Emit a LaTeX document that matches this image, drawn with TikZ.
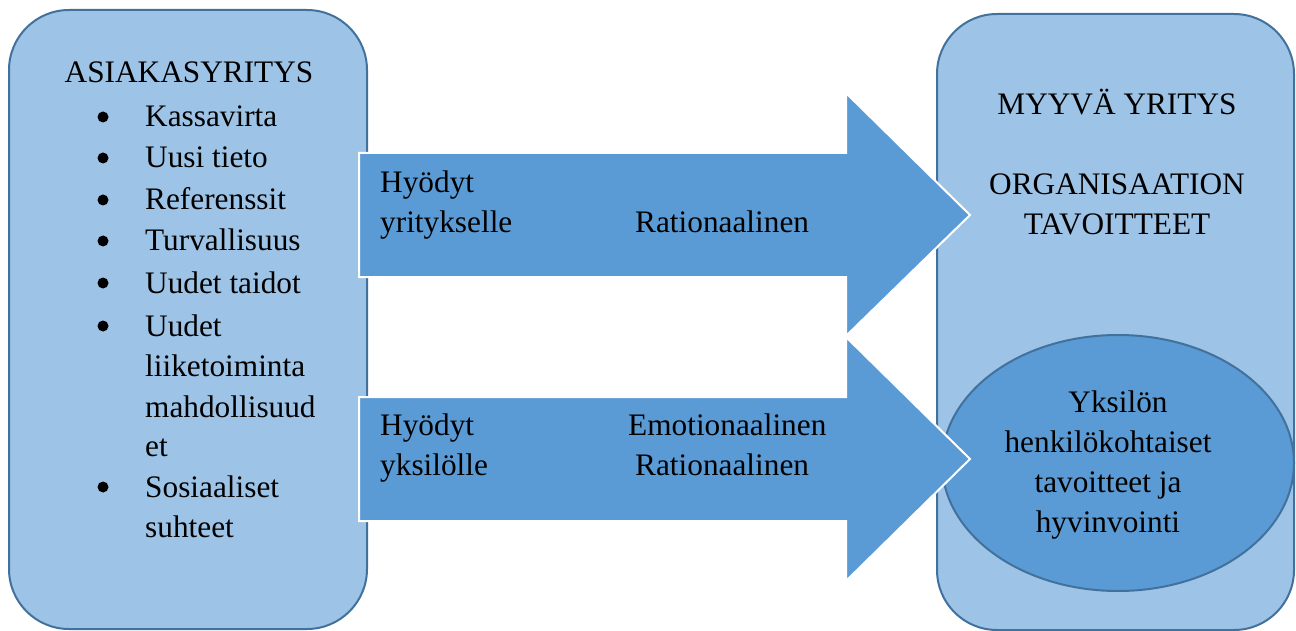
\documentclass[tikz,border=0pt]{standalone}
\usepackage{fontspec}
\setmainfont{Liberation Serif}
\definecolor{boxfill}{HTML}{9DC3E6}
\definecolor{edge}{HTML}{41719C}
\definecolor{arrowfill}{HTML}{5B9BD5}
\begin{document}
\begin{tikzpicture}[x=1pt,y=-1pt,
  box/.style={fill=boxfill, draw=edge, line width=2pt, rounded corners=60pt},
  blockarrow/.style={fill=arrowfill, draw=white, line width=2pt, line join=miter},
  goal/.style={fill=arrowfill, draw=edge, line width=2pt},
  txt/.style={inner sep=0pt, anchor=base west, font=\fontsize{31.3}{38}\selectfont},
  ctxt/.style={txt, anchor=base},
  dot/.style={circle, fill=black, inner sep=0pt, minimum size=11pt},
]
\useasboundingbox (0,0) rectangle (1296,631);

% the two organisations
\path[box] (9,10) rectangle (367,629);
\path[box] (937,14) rectangle (1294,630);

% personal goals inside the selling company
\path[goal] (1118,463) ellipse [x radius=176pt, y radius=128pt];

% benefit arrows
\path[blockarrow] (359,153) -- (846,153) -- (846,93) -- (970,215)
  -- (846,336) -- (846,277) -- (359,277) -- cycle;
\path[blockarrow] (359,397) -- (846,397) -- (846,337) -- (970,459)
  -- (846,581) -- (846,521) -- (359,521) -- cycle;

% customer company
\node[ctxt] (cTitle) at (189,83) {ASIAKASYRITYS};
\foreach \y/\t [count=\i] in {127/Kassavirta, 168/Uusi tieto, 210/Referenssit,
    251/Turvallisuus, 293/Uudet taidot, 336/Uudet, 497/Sosiaaliset}{
  \node[dot] (bul\i) at (103,{\y-10}) {};
  \node[txt] (item\i) at (145,\y) {\t};
}
\node[txt] (cont1) at (145,376) {liiketoiminta};
\node[txt] (cont2) at (145,417) {mahdollisuud};
\node[txt] (cont3) at (145,456) {et};
\node[txt] (cont4) at (145,537) {suhteet};

% arrow labels
\node[txt] (a1) at (380,193) {Hyödyt};
\node[txt] (a2) at (380,233) {yritykselle};
\node[txt] (a3) at (635,233) {Rationaalinen};
\node[txt] (b1) at (380,435) {Hyödyt};
\node[txt] (b2) at (380,475) {yksilölle};
\node[txt] (b3) at (628,435) {Emotionaalinen};
\node[txt] (b4) at (635,475) {Rationaalinen};

% selling company
\node[ctxt] (sTitle) at (1117,115) {MYYVÄ YRITYS};
\node[ctxt] (s1) at (1117,195) {ORGANISAATION};
\node[ctxt] (s2) at (1117,235) {TAVOITTEET};

\node[ctxt] (e1) at (1118,412) {Yksilön};
\node[ctxt] (e2) at (1108,452) {henkilökohtaiset};
\node[ctxt] (e3) at (1108,492) {tavoitteet ja};
\node[ctxt] (e4) at (1108,532) {hyvinvointi};
\end{tikzpicture}
\end{document}
